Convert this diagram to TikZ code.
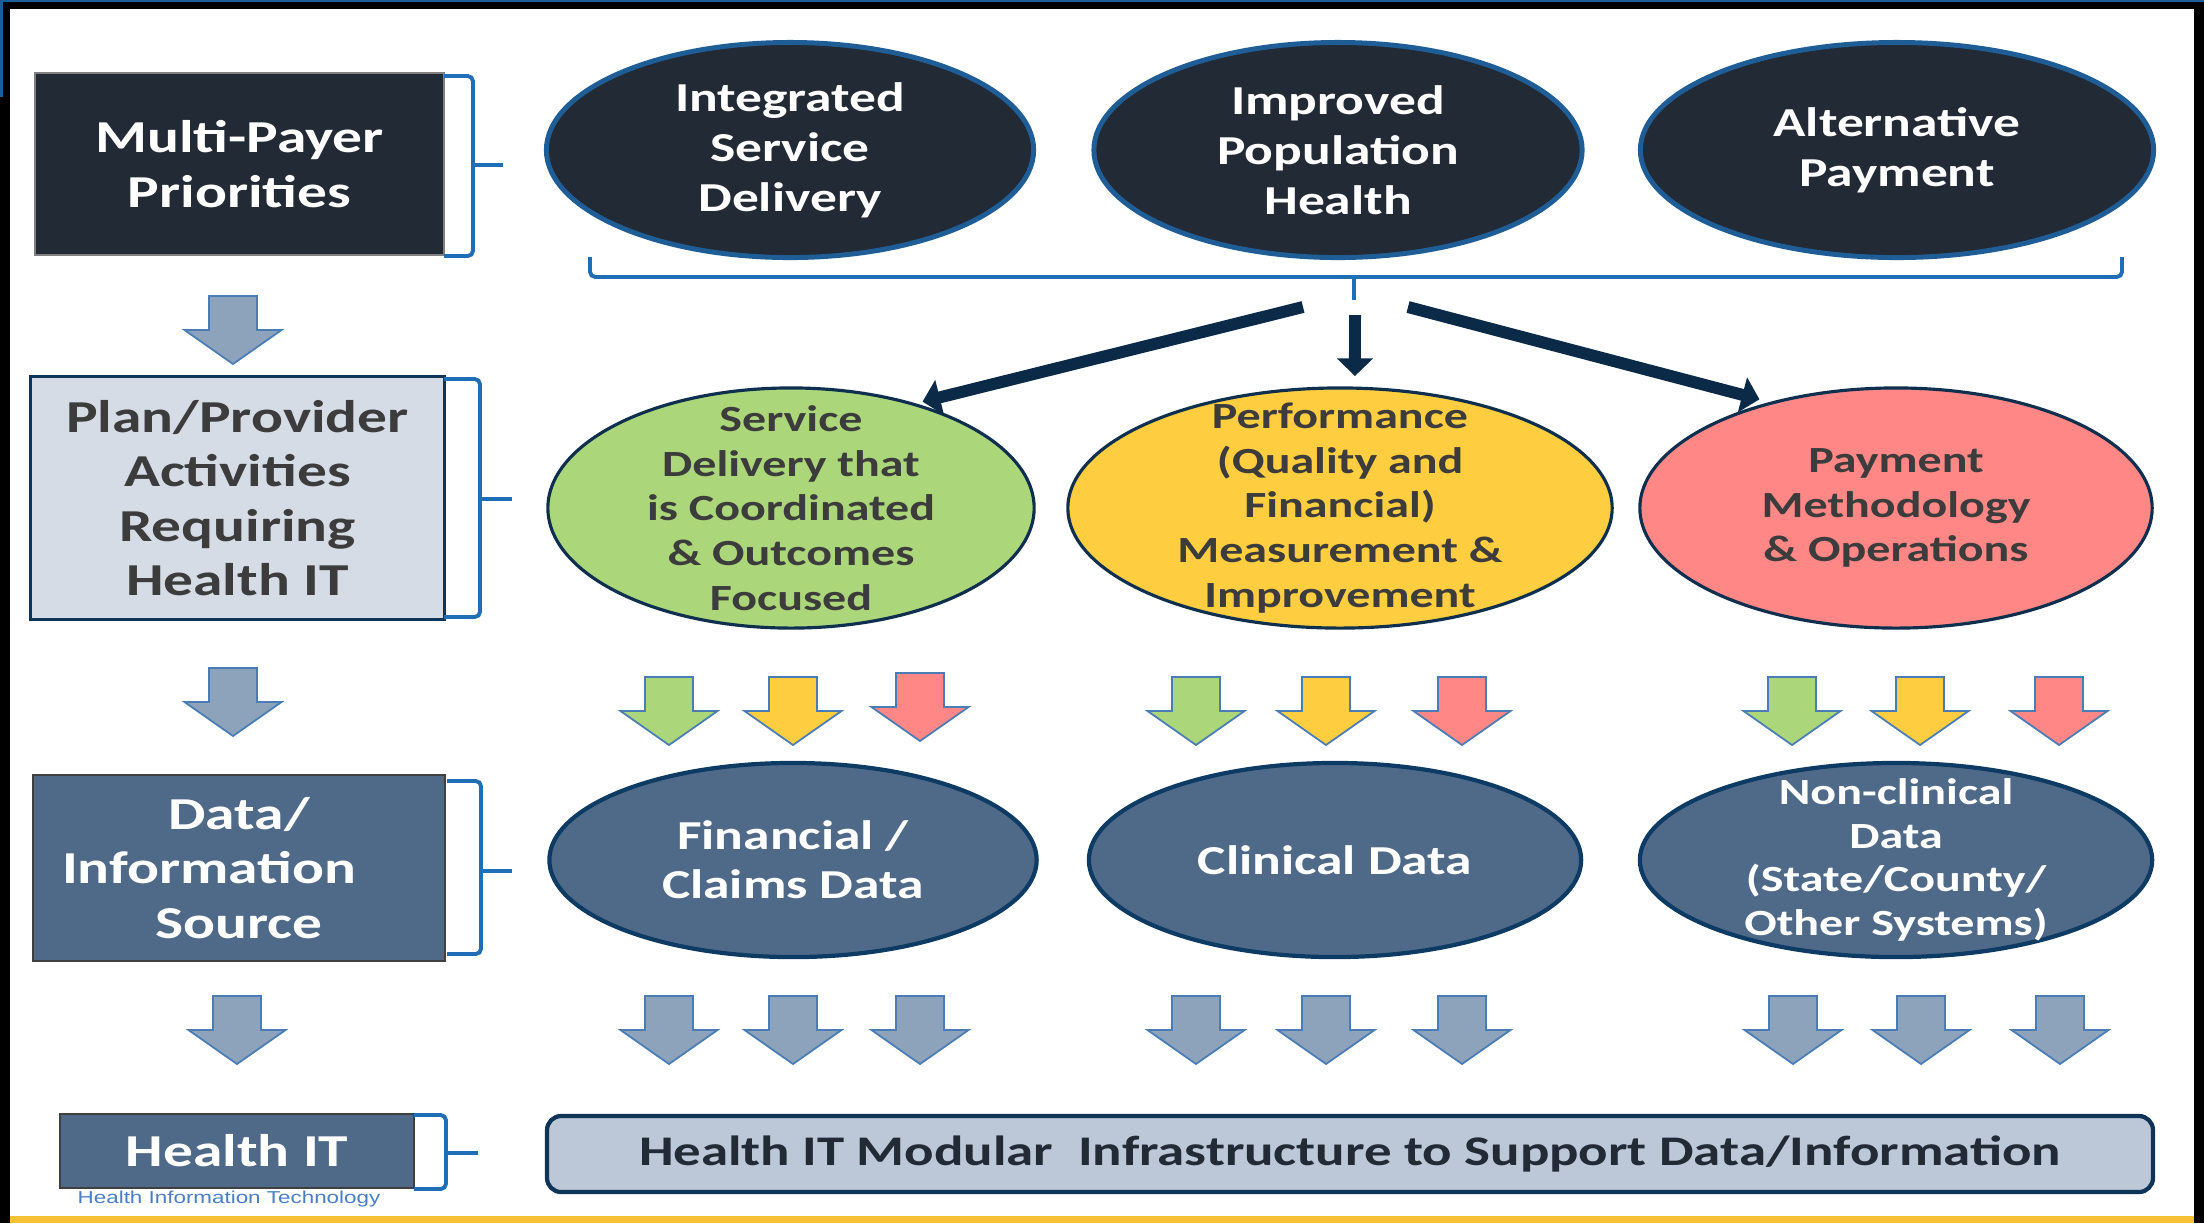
\documentclass[tikz,border=0pt]{standalone}
\usepackage{fontspec}
\setmainfont{Carlito}[FakeStretch=1.3]
\newfontfamily\smallsans{Liberation Sans}[FakeStretch=1.3]
\usetikzlibrary{shapes,arrows.meta}

\definecolor{navy}{HTML}{222A35}
\definecolor{topring}{HTML}{1F5D96}
\definecolor{planfill}{HTML}{D6DCE5}
\definecolor{planline}{HTML}{0E3558}
\definecolor{slate}{HTML}{4F6A89}
\definecolor{slateline}{HTML}{0D3B63}
\definecolor{brkblue}{HTML}{1F6EB7}
\definecolor{arrgray}{HTML}{8DA2BB}
\definecolor{arrline}{HTML}{4A7DB5}
\definecolor{grnfill}{HTML}{ACD67A}
\definecolor{ylwfill}{HTML}{FFCD40}
\definecolor{redfill}{HTML}{FF8886}
\definecolor{midline}{HTML}{0F2F4F}
\definecolor{barfill}{HTML}{BCC8D8}
\definecolor{bigarr}{HTML}{0B2A48}
\definecolor{txtgray}{HTML}{3C3C3C}
\definecolor{subblue}{HTML}{4A7FC8}
\definecolor{footbar}{HTML}{F7C136}

\begin{document}
\begin{tikzpicture}[x=0.01cm,y=-0.01cm,
    lbox/.style={draw,inner sep=0pt,align=center,font=\bfseries\fontsize{13}{15.5}\selectfont},
    topov/.style={ellipse,draw=topring,fill=navy,line width=1.4pt,minimum height=2.15cm},
    toptx/.style={align=center,text=white,font=\bfseries\fontsize{11.7}{14.2}\selectfont},
    midov/.style={ellipse,draw=midline,line width=0.9pt,minimum height=2.4cm},
    midtx/.style={align=center,text=txtgray,font=\bfseries\fontsize{10.5}{12.7}\selectfont},
    lowov/.style={ellipse,draw=slateline,fill=slate,line width=1.2pt,minimum height=1.94cm},
    lowtx/.style={align=center,text=white,font=\bfseries\fontsize{11.7}{14}\selectfont},
    brk/.style={draw=brkblue,line width=1.1pt,rounded corners=1.5pt},
    thick arrow/.style={draw=bigarr,line width=3.4pt,-{Triangle[width=10pt,length=5pt]}},
    garr/.style={fill=arrgray,draw=arrline,line width=0.5pt},
    gnarr/.style={fill=grnfill,draw=arrline,line width=0.5pt},
    ywarr/.style={fill=ylwfill,draw=arrline,line width=0.5pt},
    rdarr/.style={fill=redfill,draw=arrline,line width=0.5pt},
    darr/.pic={\path[pic actions] (-24,0) -- (24,0) -- (24,34) -- (48.5,34) -- (0,68) -- (-48.5,34) -- (-24,34) -- cycle;}]

  \useasboundingbox (0,0) rectangle (2204,1223);
  % frame
  \fill[black] (0,0) rectangle (2204,1223);
  \fill[white] (10,9) rectangle (2194,1216);
  \fill[footbar] (10,1216) rectangle (2194,1223);
  \fill[topring] (0,0) rectangle (2204,2);
  \fill[topring] (0,0) rectangle (3,97);

  % left column
  \node[lbox,fill=navy,draw=gray,text=white,minimum width=4.09cm,minimum height=1.82cm] (mpp) at (239.5,164) {Multi-Payer\\Priorities};
  \node[lbox,fill=planfill,draw=planline,line width=0.85pt,text=txtgray,minimum width=4.13cm,minimum height=2.42cm] (plan) at (237.5,498) {Plan/Provider\\Activities\\Requiring\\Health IT};
  \node[lbox,fill=slate,draw=darkgray,text=white,minimum width=4.12cm,minimum height=1.86cm] (data) at (239,868) {Data/\\Information\hspace*{17pt}\mbox{}\\Source};
  \node[lbox,fill=slate,draw=darkgray,text=white,minimum width=3.54cm,minimum height=0.74cm] (hit) at (237,1151) {Health IT};
  \node[text=subblue,font=\smallsans\fontsize{4.9}{5}\selectfont,inner sep=0pt] (hitsub) at (229,1199) {Health Information Technology};

  % brackets
  \draw[brk] (444,76) -- (473,76) -- (473,256) -- (444,256);
  \draw[brk] (473,165) -- (503,165);
  \draw[brk] (444,379) -- (480,379) -- (480,617) -- (444,617);
  \draw[brk] (480,499) -- (512,499);
  \draw[brk] (447,781) -- (481,781) -- (481,954) -- (447,954);
  \draw[brk] (481,871) -- (512,871);
  \draw[brk] (414,1115) -- (446,1115) -- (446,1189) -- (414,1189);
  \draw[brk] (446,1153) -- (478,1153);
  \draw[brk] (590,257) -- (590,277) -- (2122,277) -- (2122,257);
  \draw[brk] (1354,277) -- (1354,300);

  % priorities
  \node[topov,minimum width=4.87cm] (isd) at (790,150) {};
  \node[toptx] (isd-t) at (isd) {Integrated\\Service\\Delivery};
  \node[topov,minimum width=4.88cm] (iph) at (1338,150) {};
  \node[toptx] (iph-t) at (iph) {Improved\\Population\\Health};
  \node[topov,minimum width=5.13cm] (altp) at (1897,150) {};
  \node[toptx] (altp-t) at (altp) {Alternative\\Payment};

  % activities
  \node[midov,fill=grnfill,minimum width=4.86cm] (sdc) at (791,508) {};
  \node[midtx] (sdc-t) at (sdc) {Service\\Delivery that\\is Coordinated\\\& Outcomes\\Focused};
  \node[midov,fill=ylwfill,minimum width=5.44cm] (perf) at (1340,508) {};
  \node[midtx] (perf-t) at (perf) {Performance\\(Quality and\\Financial)\\Measurement \&\\Improvement};
  \node[midov,fill=redfill,minimum width=5.12cm] (paym) at (1896,508) {};
  \node[midtx] (paym-t) at (paym) {Payment\\Methodology\\\& Operations};

  \coordinate (lsrc) at (1303,307);
  \coordinate (msrc) at (1355,315);
  \coordinate (rsrc) at (1408,307);
  \draw[thick arrow,shorten >=2pt] (lsrc) -- (sdc.40);
  \draw[thick arrow,shorten >=3pt] (msrc) -- (perf.83);
  \draw[thick arrow,shorten >=3pt] (rsrc) -- (paym.140);

  % data sources
  \node[lowov,minimum width=4.87cm] (fin) at (793,860) {};
  \node[lowtx] (fin-t) at (fin) {Financial /\\Claims Data};
  \node[lowov,minimum width=4.92cm] (clin) at (1335,860) {};
  \node[lowtx] (clin-t) at (clin) {Clinical Data};
  \node[lowov,minimum width=5.12cm] (nonc) at (1896,860) {};
  \node[lowtx,font=\bfseries\fontsize{10.5}{12.4}\selectfont] (nonc-t) at (nonc) {Non-clinical\\Data\\(State/County/\\Other Systems)};

  \node[draw=planline,fill=barfill,line width=1.2pt,rounded corners=4pt,minimum width=16.05cm,minimum height=0.76cm,text=navy,font=\bfseries\fontsize{12}{14}\selectfont] (infra) at (1350,1154) {Health IT Modular\ \ Infrastructure to Support Data/Information};

  % block arrows
  \pic[garr] at (233,296) {darr};
  \pic[garr] at (233,668) {darr};
  \pic[garr] at (237,996) {darr};
  \pic[gnarr] at (669,677) {darr};
  \pic[ywarr] at (793,677) {darr};
  \pic[rdarr] at (920,673) {darr};
  \pic[gnarr] at (1196,677) {darr};
  \pic[ywarr] at (1326,677) {darr};
  \pic[rdarr] at (1462,677) {darr};
  \pic[gnarr] at (1792,677) {darr};
  \pic[ywarr] at (1920,677) {darr};
  \pic[rdarr] at (2059,677) {darr};
  \pic[garr] at (669,996) {darr};
  \pic[garr] at (793,996) {darr};
  \pic[garr] at (920,996) {darr};
  \pic[garr] at (1196,996) {darr};
  \pic[garr] at (1326,996) {darr};
  \pic[garr] at (1462,996) {darr};
  \pic[garr] at (1793,996) {darr};
  \pic[garr] at (1921,996) {darr};
  \pic[garr] at (2060,996) {darr};
\end{tikzpicture}
\end{document}
